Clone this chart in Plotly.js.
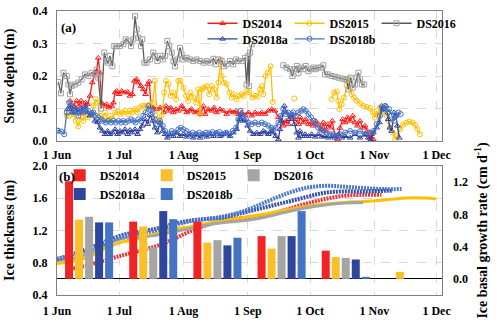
<!DOCTYPE html>
<html>
<head>
<meta charset="utf-8">
<script src="https://cdn.plot.ly/plotly-3.0.1.min.js"></script>
<style>
  body { margin: 0; background: #fff; }
  #myDiv { width: 500px; height: 322px; }
</style>
</head>
<body>
<div id="myDiv"></div>
<script>
// Eje x: días desde el 1 de junio
let monthTicks = [0, 30, 61, 92, 122, 153, 183];
let monthLabels = ['1 Jun', '1 Jul', '1 Aug', '1 Sep', '1 Oct', '1 Nov', '1 Dec'];
let seriesNames = ['DS2014', 'DS2015', 'DS2016', 'DS2018a', 'DS2018b'];

// (a) espesor de nieve (m)
let snow14Day = [6.3,7.9,9.5,10.6,11.6,12.7,13.8,14.8,15.9,17,18.3,19.1,19.9,20.7,21.5,22.8,23.9,25,26.4,27.2,28,28.8,29.9,31.2,32.8,34.1,35.2,36.3,37.3,38.4,39.2,40.5,41.6,42.7,43.7,44.5,45.3,46.4,48,49.7,51.3,52.5,53.7,54.8,56.1,57.4,58.5,60.1,61.2,62.5,63.8,64.9,66.6,68.1,69.3,70.6,71.4,73,74.6,75.7,77,78.6,80.2,81.8,83.4,85,86.3,87.4,89,90.6,92.3,93.9,95.5,97.1,98.7,100.3,101.9,103.5,105.1,106.7,108.3,109.1,110.3,111.5,113.1,114.8,116.4,117.2,118.8,119.9,121.2,122.5,123.6,124.7,125.9,127.3,128.4,129.2,130.5,131.6,132.7,134,135.3,136.4,137.7,138.9,140,141.3,142.6,143.7,144.8,146.1,147.4,148.5,149.6,150.9,151.7,152.5];
let snow14 = [0.124,0.108,0.124,0.108,0.124,0.088,0.118,0.113,0.139,0.18,0.21,0.215,0.256,0.21,0.118,0.108,0.113,0.103,0.108,0.118,0.149,0.154,0.144,0.154,0.149,0.151,0.139,0.144,0.185,0.19,0.18,0.169,0.159,0.144,0.175,0.183,0.108,0.103,0.098,0.103,0.088,0.108,0.093,0.103,0.088,0.098,0.093,0.108,0.098,0.088,0.093,0.098,0.088,0.093,0.083,0.108,0.083,0.098,0.093,0.103,0.088,0.098,0.093,0.083,0.093,0.088,0.093,0.083,0.088,0.08,0.088,0.078,0.088,0.083,0.088,0.083,0.093,0.098,0.093,0.073,0.062,0.047,0.062,0.052,0.078,0.067,0.052,0.073,0.057,0.067,0.052,0.057,0.047,0.062,0.052,0.036,0.057,0.031,0.052,0.041,0.062,0.015,0.005,0.04,0.067,0.057,0.073,0.062,0.078,0.057,0.047,0.062,0.041,0.047,0.031,0.01,0.021,0.005];

let snow15Day = [4.7,5.8,6.7,7.9,9,10.3,11.6,12.7,13.8,15.1,16.4,17.5,18.6,19.6,20.7,21.9,23.1,24.4,25.5,26.7,28,29.3,30.4,31.5,32.8,34.1,35.2,36.3,37.6,38.9,40,41.1,42.4,43.7,44.8,46.1,47.2,48.4,49.3,50.5,51.6,52.5,53.7,54.8,56.1,57.4,58.5,59.6,60.9,62.2,63.3,64.4,65.7,67,68.1,69,69.8,70.9,72.2,73.4,74.6,75.7,77,77.8,78.9,79.4,80.5,81.8,83.1,84.2,85.3,86.6,87.9,89,90.1,91.4,92.7,94.2,95.5,96.7,97.9,98.7,99.5,100.6,101.6,103,104,null,114.4,null,132.4,133.6,134.9,135.6,136.1,137.3,138.4,139.7,140.5,141.3,142.1,143.2,144.5,146.1,147.7,149.3,150.9,152.2,153.3,154.1,154.9,155.7,156.5,157.3,158.1,159,159.7,160.6,161.8,163,164.1,165.4,166.7,168.3,169.9,171.5,172.6,173.7,175];
let snow15 = [0.078,0.077,0.103,0.083,0.062,0.045,0.073,0.062,0.078,0.073,0.083,0.108,0.129,0.118,0.078,0.067,0.088,0.062,0.078,0.067,0.088,0.09,0.083,0.088,0.093,0.083,0.093,0.088,0.098,0.088,0.103,0.108,0.108,0.103,0.113,0.118,0.185,0.067,0.057,0.078,0.149,0.185,0.175,0.139,0.149,0.129,0.185,0.185,0.164,0.139,0.123,0.149,0.134,0.118,0.159,0.083,0.159,0.164,0.169,0.144,0.169,0.159,0.134,0.18,0.251,0.2,0.18,0.175,0.149,0.134,0.144,0.129,0.139,0.144,0.139,0.154,0.15,0.134,0.139,0.137,0.159,0.169,0.144,0.2,0.21,0.23,0.12,null,0.131,null,0.129,0.149,0.152,0.124,0.098,0.113,0.134,0.17,0.19,0.163,0.144,0.134,0.124,0.115,0.108,0.105,0.101,0.088,0.072,0.093,0.078,0.103,0.083,0.103,0.093,0.078,0.062,0.042,0.026,0.006,0.016,0.037,0.05,0.056,0.06,0.057,0.05,0.037,0.021];

let snow16Day = [0.6,1.9,3.1,4.7,5.5,6.3,7.1,8.7,10.3,11.9,13.5,15.1,16.7,18.3,19.1,19.9,21.2,22.8,23.9,24.7,25.5,26.7,27.6,28.8,30.4,32,33.1,34.4,35.7,36.8,37.6,38.4,39.2,40.5,41.1,42.1,43.2,44.8,46.4,47.2,48.4,49.7,51,52.1,53.2,54.1,55.3,56.1,56.9,58,59.3,60.1,60.9,62.5,64.1,65.7,67.3,69,70.6,72.2,73.8,75.4,76.7,77.8,79.4,80.5,81.8,83.4,85,86.3,87.4,89,90.6,91.4,92.2,92.6,93.1,93.9,null,109.1,110.7,112.3,113.5,114.4,115.6,116.4,117.7,118.8,119.9,121.2,122.5,123.6,124.7,125.9,127.3,128.4,129.2,130.8,132.4,134,135.6,137.3,138.8,139.7,140.5,141.6,142.6,143.7,144.5,145.3,146.1,147,148.1];
let snow16 = [0.182,0.147,0.21,0.2,0.174,0.144,0.17,0.174,0.18,0.19,0.205,0.2,0.21,0.205,0.22,0.195,0.1,0.272,0.246,0.241,0.262,0.23,0.292,0.292,0.292,0.298,0.313,0.308,0.292,0.313,0.384,0.343,0.318,0.292,0.313,0.241,0.241,0.251,0.272,0.262,0.246,0.262,0.251,0.262,0.308,0.292,0.272,0.246,0.23,0.251,0.287,0.267,0.251,0.256,0.251,0.246,0.251,0.246,0.241,0.246,0.241,0.253,0.236,0.251,0.246,0.23,0.236,0.246,0.236,0.251,0.246,0.246,0.256,0.174,0.262,0.169,0.272,0.298,null,0.233,0.226,0.221,0.2,0.221,0.231,0.21,0.226,0.221,0.231,0.215,0.221,0.226,0.221,0.226,0.226,0.233,0.205,0.205,0.2,0.198,0.195,0.192,0.19,0.188,0.159,0.195,0.164,0.174,0.195,0.21,0.19,0.174,0.174];

let snow18aDay = [5.1,6.3,7.4,8.7,9.9,11.1,12.2,13.5,14.8,15.9,17,18.3,19.6,20.7,21.9,23.1,24.4,25.5,26.7,28,29.3,30.4,31.5,32.8,34.1,35.2,36.3,37.6,38.9,40,41.1,42.4,43.7,44.8,46.1,47.2,48.4,49.7,51,52.1,53.2,54.5,56.1,57.7,59.3,60.9,62.5,64.1,65.7,67.3,69,70.6,72.2,73.8,75.4,77,78.6,80.2,81.8,83.4,85,86.6,87.9,88.5,89.5,90.6,91.9,93.1,94.7,96.3,97.9,99.5,100.6,101.9,103.2,104.3,105.4,106.7,107.5,108.3,109.6,110.7,111.9,113.1,114.4,115.6,116.4,117.2,118.3,119.6,121.2,122.8,124.4,126,127.6,129.2,130.8,132.4,134,135.6,137.3,138.9,141.3,143.7,146.1,148.5,150.1,151.3,152.5,154.1,155.4,156.5,157.6,158.6,159.7,160.5,161.3,162.5,163.4,164.1,165];
let snow18a = [0.098,0.108,0.088,0.103,0.088,0.098,0.093,0.108,0.088,0.078,0.088,0.062,0.057,0.041,0.031,0.021,0.031,0.021,0.026,0.036,0.021,0.031,0.026,0.036,0.021,0.034,0.026,0.036,0.021,0.036,0.047,0.067,0.052,0.08,0.062,0.041,0.026,0.057,0.031,0.021,0.01,0.021,0.015,0.026,0.015,0.021,0.013,0.021,0.01,0.021,0.01,0.021,0.013,0.021,0.015,0.026,0.015,0.021,0.026,0.015,0.026,0.036,0.067,0.083,0.062,0.065,0.047,0.031,0.021,0.026,0.021,0.031,0.026,0.021,0.031,0.026,0.015,0.005,0.036,0.062,0.108,0.088,0.067,0.083,0.052,0.026,0.01,0.031,0.015,0.021,0.015,0.021,0.013,0.021,0.013,0.015,0.01,0.015,0.01,0.021,0.01,0.015,0.01,0.021,0.01,0.021,0.01,0.005,0.026,0.041,0.057,0.108,0.098,0.108,0.067,0.041,0.031,0.088,0.078,0.047,0.01];

let snow18bDay = [0,0.6,2.2,3.5,4.7,5.8,6.7,7.9,9,10.3,11.6,12.7,13.8,15.1,16.4,17.5,18.6,19.9,21.2,22.3,23.5,24.7,26,27.2,28.3,29.6,30.9,32,33.1,34.4,35.7,36.8,37.9,39.2,40.5,41.6,42.7,44,45.3,46.1,47.2,48.4,49.7,51,52.1,53.7,55.3,56.9,58.5,59.6,60.9,62.5,63.8,65.4,67,68.6,70.2,71.8,73.4,75,76.7,78.3,79.9,81.5,83.1,84.7,86.3,87.4,88.5,89.8,91.1,92.3,93.9,95.5,97.1,98.7,100.3,101.9,103.2,104.3,105.4,106.7,108,109.1,110.3,111.5,112.8,113.9,115.1,116.4,117.7,118.8,119.9,121.2,122.5,123.6,124.7,125.9,127.3,128.4,130,131.6,133.2,134.8,136.4,138.9,141.3,143.7,146.1,148.5,150.9,152.5,154.1,155.7,157,158.1,159.3,160.2,161.3,162.5,163.4,164.6,165.7];
let snow18b = [0.032,0.032,0.029,0.021,0.088,0.118,0.108,0.088,0.093,0.078,0.098,0.088,0.098,0.093,0.083,0.088,0.078,0.073,0.067,0.062,0.057,0.062,0.057,0.062,0.057,0.062,0.057,0.062,0.057,0.062,0.067,0.062,0.057,0.067,0.062,0.078,0.088,0.108,0.095,0.088,0.067,0.052,0.062,0.047,0.031,0.021,0.031,0.026,0.036,0.041,0.036,0.031,0.021,0.026,0.021,0.026,0.021,0.026,0.024,0.028,0.024,0.028,0.021,0.026,0.021,0.031,0.041,0.067,0.093,0.078,0.067,0.057,0.052,0.057,0.052,0.057,0.052,0.047,0.041,0.036,0.041,0.057,0.078,0.098,0.083,0.088,0.078,0.088,0.078,0.088,0.093,0.098,0.093,0.083,0.073,0.062,0.052,0.041,0.036,0.031,0.026,0.021,0.021,0.015,0.021,0.026,0.031,0.026,0.031,0.021,0.026,0.031,0.052,0.078,0.098,0.108,0.088,0.098,0.078,0.062,0.078,0.088,0.083];

// (b) espesor de hielo (m)
let ice14Day = [6.3,15.1,31.2,47.2,55.3,63.3,71.4,79.4,92,100.3,110,119.6,129.2,138.8,148.4,156.4];
let ice14 = [0.72,0.77,0.89,1.0,1.08,1.18,1.26,1.32,1.36,1.385,1.455,1.528,1.59,1.631,1.643,1.643];
let ice15Day = [0,7.1,15.1,23.1,31.2,39.2,47.2,55.3,63.3,71.4,79.4,90.6,100.3,110,119.6,129.2,138.8,148.4,158.1,167.7,177.3,182.9];
let ice15 = [0.79,0.818,0.871,0.975,1.056,1.097,1.159,1.22,1.24,1.282,1.323,1.364,1.405,1.455,1.495,1.528,1.548,1.56,1.578,1.602,1.602,1.59];
let ice16Day = [0,7.1,15.1,23.1,31.2,39.2,47.2,55.3,63.3,71.4,79.4,90.6,100.3,110,119.6,129.2,138.8,147.6];
let ice16 = [0.83,0.85,0.913,1.015,1.097,1.118,1.138,1.18,1.22,1.262,1.295,1.323,1.364,1.425,1.479,1.516,1.541,1.548];
let ice18aDay = [0,15.1,31.2,47.2,63.3,79.4,90.6,100.3,110,119.6,129.2,138.8,148.4,158.1,161.3];
let ice18a = [0.84,0.975,1.14,1.22,1.32,1.36,1.425,1.487,1.548,1.61,1.668,1.684,1.684,1.692,1.692];
let ice18bDay = [0,15.1,31.2,47.2,63.3,79.4,90.6,100.3,110,119.6,129.2,138.8,148.4,158.1,166.1];
let ice18b = [0.85,0.96,1.12,1.2,1.31,1.37,1.446,1.548,1.651,1.725,1.754,1.742,1.725,1.713,1.713];

// Tasa de crecimiento basal mensual (cm/d)
let months = ['Jun', 'Jul', 'Aug', 'Sep', 'Oct', 'Nov'];
let rate14 = [1.21, 0.71, 0.71, 0.53, 0.35, null];
let rate15 = [0.735, 0.65, 0.45, 0.375, 0.27, 0.087];
let rate16 = [0.77, 0.39, 0.48, 0.53, 0.26, null];
let rate18a = [0.70, 0.84, 0.415, 0.53, 0.24, null];
let rate18b = [0.70, 0.74, 0.51, 0.84, 0.025, null];

let lineColors = ['#ff1a1a', '#ffc000', '#595959', '#2f3f9f', '#4472c4'];
let markerColors = ['#ff1a1a', '#ffc000', '#a0a0a0', '#2f3f9f', '#4472c4'];
let iceColors = ['#e8343a', '#ffc000', '#a5a5a5', '#3350a8', '#4a78cc'];
let iceDash = ['2px,1px', 'solid', 'solid', '2px,1px', '2px,1px'];  // bandas rayadas como en el original
let barColors = ['#f02424', '#fbbf2a', '#a5a5a5', '#2e469c', '#4674c4'];
let symbols = ['triangle-up-open', 'circle-open', 'square-open', 'triangle-up-open', 'circle-open'];
// leyenda de cada serie: primera fila (3) y segunda fila (2)
let topLegends = ['legend', 'legend', 'legend', 'legend3', 'legend3'];
let barLegends = ['legend2', 'legend2', 'legend2', 'legend4', 'legend4'];

let snowDays = [snow14Day, snow15Day, snow16Day, snow18aDay, snow18bDay];
let snowVals = [snow14, snow15, snow16, snow18a, snow18b];
let iceDays = [ice14Day, ice15Day, ice16Day, ice18aDay, ice18bDay];
let iceVals = [ice14, ice15, ice16, ice18a, ice18b];
let rates = [rate14, rate15, rate16, rate18a, rate18b];

let traces = [];
seriesNames.forEach((name, i) => {
    traces.push({
        x: snowDays[i], y: snowVals[i],
        xaxis: 'x', yaxis: 'y',
        mode: 'lines+markers', type: 'scatter', name: name,
        legend: topLegends[i], connectgaps: false,
        line: {color: lineColors[i], width: 1.3},
        marker: {symbol: symbols[i], size: 5, color: markerColors[i], line: {width: 1, color: markerColors[i]}},
        hoverinfo: 'none'
    });
});
seriesNames.forEach((name, i) => {
    traces.push({
        x: months, y: rates[i],
        xaxis: 'x3', yaxis: 'y3',
        type: 'bar', name: name, legend: barLegends[i],
        marker: {color: barColors[i]},
        hoverinfo: 'none'
    });
});
seriesNames.forEach((name, i) => {
    traces.push({
        x: iceDays[i], y: iceVals[i],
        xaxis: 'x2', yaxis: 'y2',
        mode: 'lines', type: 'scatter', name: name, showlegend: false,
        line: {color: iceColors[i], width: iceDash[i] === 'solid' ? 3 : 4, dash: iceDash[i], shape: 'spline'},
        hoverinfo: 'none'
    });
});

let fontFam = 'Liberation Serif, Times New Roman, serif';
let gridStyle = {showgrid: true, gridcolor: '#d9d9d9', griddash: 'dash', gridwidth: 1,
                 showline: true, mirror: true, linecolor: '#808080', linewidth: 1,
                 zeroline: false, ticks: '', fixedrange: true};

let xCommon = Object.assign({}, gridStyle, {
    range: [0, 185.6], tickvals: monthTicks, ticktext: monthLabels, ticklabelstandoff: 3
});

function legendRow(x, y) {
    return {
        orientation: 'h', x: x, y: y, xanchor: 'left', yanchor: 'top',
        entrywidth: 42, entrywidthmode: 'pixels', itemwidth: 30,
        bgcolor: 'rgba(0,0,0,0)', font: {size: 12, family: fontFam, weight: 'bold'}
    };
}

let layout = {
    width: 500, height: 322,
    margin: {l: 57, r: 58, t: 9, b: 27, pad: 0},
    paper_bgcolor: '#fff', plot_bgcolor: '#fff',
    font: {family: fontFam, size: 12, color: '#000', weight: 'bold'},
    barmode: 'group', bargap: 0.22, bargroupgap: 0.2,
    xaxis: Object.assign({}, xCommon, {anchor: 'y', domain: [0, 1]}),
    yaxis: Object.assign({}, gridStyle, {
        anchor: 'x', domain: [0.542, 1], range: [0, 0.4], dtick: 0.1, tickformat: '.1f',
        ticklabelstandoff: 6,
        title: {text: 'Snow depth (m)', standoff: 14}
    }),
    xaxis2: Object.assign({}, xCommon, {anchor: 'y2', domain: [0, 1], ticklabelstandoff: 5}),
    yaxis2: Object.assign({}, gridStyle, {
        anchor: 'x2', domain: [0, 0.4545], range: [0.4, 2.0], dtick: 0.4, tickformat: '.1f',
        ticklabelstandoff: 6,
        title: {text: 'Ice thickness (m)', standoff: 14}
    }),
    xaxis3: {overlaying: 'x2', anchor: 'y3', visible: false, type: 'category',
             range: [-0.5, 5.5], fixedrange: true},
    yaxis3: {overlaying: 'y2', anchor: 'x2', side: 'right', range: [-0.2, 1.4], dtick: 0.4,
             tickformat: '.1f', showgrid: false, ticks: '', fixedrange: true, ticklabelstandoff: 10,
             zeroline: true, zerolinecolor: '#000', zerolinewidth: 1,
             title: {text: 'Ice basal growth rate (cm d<sup>-1</sup>)', standoff: 10}},
    legend: legendRow(0.378, 1.008),
    legend3: legendRow(0.378, 0.953),
    legend2: legendRow(0.007, 0.473),
    legend4: legendRow(0.007, 0.407),
    annotations: [
        {text: '(a)', xref: 'paper', yref: 'paper', x: 0.005, y: 0.975, xanchor: 'left', yanchor: 'top',
         showarrow: false, font: {size: 13, family: fontFam, weight: 'bold'}},
        {text: '(b)', xref: 'paper', yref: 'paper', x: 0.0, y: 0.452, xanchor: 'left', yanchor: 'top',
         showarrow: false, font: {size: 13, family: fontFam, weight: 'bold'}}
    ],
    showlegend: true
};

Plotly.newPlot('myDiv', traces, layout, {displayModeBar: false, staticPlot: true});
</script>
</body>
</html>
